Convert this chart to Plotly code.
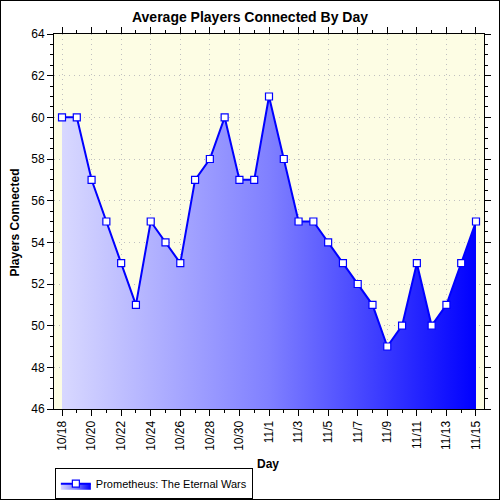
import plotly.graph_objects as go
import pandas as pd

days = pd.date_range("2008-10-18", "2008-11-15", freq="D")
players = [60, 60, 57, 55, 53, 51, 55, 54, 53, 57, 58, 60, 57, 57,
           61, 58, 55, 55, 54, 53, 52, 51, 49, 50, 53, 50, 51, 53, 55]
series_name = "Prometheus: The Eternal Wars"

font = "Arial, Liberation Sans, sans-serif"
day_ms = 86400000

fig = go.Figure()

fig.add_trace(go.Scatter(
    x=days, y=players, name=series_name,
    mode="lines+markers",
    line=dict(color="#0000ff", width=2),
    marker=dict(symbol="square", size=7, color="white",
                line=dict(color="#0000ff", width=1.2)),
    fill="tozeroy",
    fillgradient=dict(type="horizontal",
                      colorscale=[[0, "#d8d8ff"], [0.5, "#8080ff"], [1, "#0000ff"]]),
))

fig.update_layout(
    width=500, height=500,
    margin=dict(l=54, r=16, t=34, b=91, autoexpand=False),
    paper_bgcolor="white",
    plot_bgcolor="#fdfde4",
    font=dict(family=font, size=12, color="black"),
    title=dict(text="Average Players Connected By Day", x=0.5, xanchor="center",
               y=0.966, yanchor="middle",
               font=dict(family=font, size=14, weight="bold", color="black")),
    showlegend=True,
    legend=dict(x=0.002, y=-0.199, xanchor="left", yanchor="middle",
                bgcolor="white", bordercolor="black", borderwidth=1,
                font=dict(size=11), itemwidth=30, tracegroupgap=0),
)

fig.update_xaxes(
    type="date", automargin=False,
    range=[days[0] - pd.Timedelta(hours=13), days[-1] + pd.Timedelta(hours=13)],
    tick0=days[0], dtick=2 * day_ms, tickformat="%-m/%-d", tickangle=-90,
    ticks="outside", ticklen=6, tickcolor="black",
    minor=dict(dtick=day_ms, ticks="outside", ticklen=3, tickcolor="black", showgrid=False),
    showgrid=True, gridcolor="#c0c0c0", griddash="1px,4px", gridwidth=1,
    showline=True, linecolor="black", linewidth=1, mirror="ticks",
    tickfont=dict(size=12),
)

fig.update_yaxes(
    range=[46, 64], dtick=2, automargin=False,
    ticks="outside", ticklen=6, tickcolor="black",
    minor=dict(dtick=0.5, ticks="outside", ticklen=3, tickcolor="black", showgrid=False),
    showgrid=True, gridcolor="#c0c0c0", griddash="1px,4px", gridwidth=1,
    showline=True, linecolor="black", linewidth=1, mirror="ticks",
    zeroline=False,
    tickfont=dict(size=12),
)

# axis titles placed by hand to sit where the original puts them
fig.add_annotation(text="<b>Day</b>", xref="paper", yref="paper",
                   x=0.498, y=-0.147, xanchor="center", yanchor="middle",
                   showarrow=False, font=dict(size=12))
fig.add_annotation(text="<b>Players Connected</b>", xref="paper", yref="paper",
                   x=-0.091, y=0.497, xanchor="center", yanchor="middle",
                   textangle=-90, showarrow=False, font=dict(size=12))

# outer frame around the whole picture
fig.add_shape(type="rect", xref="paper", yref="paper",
              x0=-0.12558, x1=1.03721, y0=-0.24267, y1=1.09067,
              line=dict(color="black", width=2), layer="above")

# drop the default page margin so the 500x500 figure sits at the window corner
fig.write_html("out.html", config={"displayModeBar": False},
               post_script="document.body.style.margin='0';")
